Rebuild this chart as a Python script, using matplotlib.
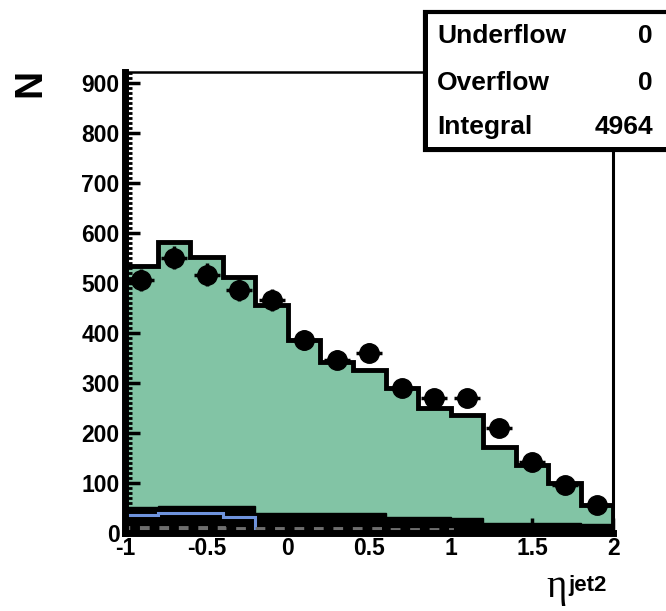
import matplotlib
matplotlib.use("Agg")
import matplotlib.pyplot as plt
from matplotlib.patches import Rectangle
from matplotlib.ticker import MultipleLocator
import numpy as np

# binning: 15 bins of eta(jet2) from -1 to 2
edges = [-1.0, -0.8, -0.6, -0.4, -0.2, 0.0, 0.2, 0.4, 0.6, 0.8,
         1.0, 1.2, 1.4, 1.6, 1.8, 2.0]

# stacked MC total (green, black outline)
mc_total = [534, 582, 552, 512, 456, 386, 342, 326, 290, 250,
            236, 172, 136, 100, 56]
# dark component at the bottom of the stack
mc_dark = [52, 54, 54, 54, 40, 40, 40, 40, 32, 32,
           30, 20, 20, 20, 18]
# blue component (only visible in first bins)
mc_blue = [36, 40, 40, 32]
# grey dashed component
mc_grey = [9, 9, 9, 8, 8, 7, 7, 8, 6, 6]

# data points
data = [506, 550, 516, 486, 466, 386, 346, 360, 290, 270,
        270, 210, 142, 96, 56]
data_err = [22, 23, 23, 22, 22, 20, 19, 19, 17, 16,
            16, 14, 12, 10, 8]

x_ticks = [-1, -0.5, 0, 0.5, 1, 1.5, 2]
x_tick_labels = ["-1", "-0.5", "0", "0.5", "1", "1.5", "2"]
y_ticks = [0, 100, 200, 300, 400, 500, 600, 700, 800, 900]

stats_names = ["Underflow", "Overflow", "Integral"]
stats_values = ["0", "0", "4964"]

plt.rcParams["font.family"] = ["Liberation Sans", "DejaVu Sans"]
plt.rcParams["font.weight"] = "bold"

fig = plt.figure(figsize=(6.66, 6.11), dpi=100)
ax = fig.add_axes([0.188, 0.128, 0.733, 0.754])

green = "#82c4a5"
edges_arr = np.array(edges)
centers = 0.5 * (edges_arr[:-1] + edges_arr[1:])
half_w = 0.4 * (edges_arr[1:] - edges_arr[:-1])

ax.stairs(mc_total, edges, fill=True, color=green, zorder=1)
ax.stairs(mc_dark, edges, baseline=0, fill=True, facecolor="black",
          edgecolor="black", linewidth=1, zorder=2)
ax.stairs(mc_blue, edges[:len(mc_blue) + 1], color="#6f93dc",
          linewidth=2.2, zorder=3)
ax.stairs(mc_grey, edges[:len(mc_grey) + 1], color="#6e6e6e",
          linewidth=3.5, linestyle=(0, (2, 2)), zorder=3)
ax.stairs(mc_total, edges, color="black", linewidth=3.5, zorder=4)

ax.errorbar(centers, data, yerr=data_err, xerr=half_w, fmt="o",
            color="black", markersize=14, elinewidth=2.5, capsize=0,
            zorder=5)

ax.set_xlim(-1, 2)
ax.set_ylim(0, 922)

ax.set_xticks(x_ticks)
ax.set_xticklabels(x_tick_labels)
ax.set_yticks(y_ticks)
ax.xaxis.set_minor_locator(MultipleLocator(0.1))
ax.yaxis.set_minor_locator(MultipleLocator(10))
ax.tick_params(axis="both", which="major", direction="in", length=11,
               width=2.5, labelsize=16.5)
ax.tick_params(axis="both", which="minor", direction="in", length=5,
               width=2)
ax.tick_params(axis="y", pad=4)
ax.tick_params(axis="x", pad=3)
for lab in ax.get_xticklabels() + ax.get_yticklabels():
    lab.set_fontweight("bold")

ax.spines["left"].set_linewidth(5)
ax.spines["bottom"].set_linewidth(5)
ax.spines["top"].set_linewidth(1.8)
ax.spines["right"].set_linewidth(2.2)
for sp in ax.spines.values():
    sp.set_zorder(6)

# axis titles
fig.text(30 / 666, 1 - 83 / 611, "N", rotation=90, fontsize=28,
         fontweight="bold", ha="center", va="center")
fig.text(557 / 666, 1 - 597 / 611, "\u03b7", family="Liberation Serif",
         fontsize=28, fontweight="normal", ha="center", va="baseline")
fig.text(568 / 666, 1 - 591 / 611, "jet2", fontsize=16,
         fontweight="bold", ha="left", va="baseline")

# statistics box (drawn above the frame)
box = Rectangle((425 / 666, 1 - 150 / 611), 260 / 666, 138 / 611,
                transform=fig.transFigure, facecolor="white",
                edgecolor="black", linewidth=3, zorder=10)
fig.add_artist(box)
shadow_l = Rectangle((423 / 666, 1 - 152 / 611), 5 / 666, 138 / 611,
                     transform=fig.transFigure, facecolor="black",
                     edgecolor="none", zorder=11)
shadow_b = Rectangle((423 / 666, 1 - 152 / 611), 260 / 666, 5 / 611,
                     transform=fig.transFigure, facecolor="black",
                     edgecolor="none", zorder=11)
fig.add_artist(shadow_l)
fig.add_artist(shadow_b)

rows_y = [36, 83, 127]
for name, val, yy in zip(stats_names, stats_values, rows_y):
    fig.text(437 / 666, 1 - yy / 611, name, fontsize=19,
             fontweight="bold", ha="left", va="center", zorder=12)
    fig.text(653 / 666, 1 - yy / 611, val, fontsize=19,
             fontweight="bold", ha="right", va="center", zorder=12)

fig.savefig("out.png", dpi=100)
